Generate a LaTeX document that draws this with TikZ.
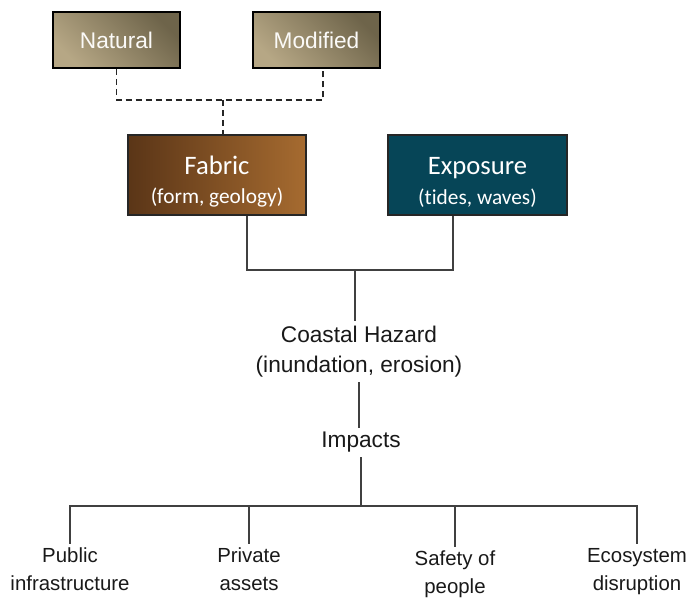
\documentclass[tikz,border=0pt]{standalone}
\usepackage{fontspec}
\setmainfont{Liberation Sans}
\newfontfamily\boxfont[Ligatures=NoCommon]{Carlito}
\usepackage{tikz}

\definecolor{tanlight}{HTML}{B6A785}
\definecolor{tandark}{HTML}{6E644A}
\definecolor{fabricdark}{HTML}{5A3517}
\definecolor{fabriclight}{HTML}{A66B30}
\definecolor{exposureteal}{HTML}{064557}

\begin{document}
\begin{tikzpicture}[
  x=0.75pt, y=-0.75pt,
  landbox/.style={rectangle, draw=black, line width=1.5pt, minimum width=95pt, minimum height=42pt, bottom color=tanlight, top color=tandark, shading angle=-45, text=white!94!tanlight, font=\fontsize{17}{20}\selectfont},
  drivebox/.style={rectangle, draw=black!85, line width=1.5pt, minimum width=134pt, minimum height=60pt, align=center, text height=45pt, text=white, font=\boxfont\fontsize{16}{22}\selectfont},
  outcome/.style={align=center, text=black!90, font=\fontsize{17}{23}\selectfont},
  category/.style={align=center, anchor=base, text=black!90, font=\fontsize{15.3}{21}\selectfont},
  link/.style={draw=black!75, line width=0.9pt},
  dashlink/.style={draw=black!85, line width=1.1pt, dash pattern=on 4.5pt off 3pt}
]
  \useasboundingbox (0,0) rectangle (687,599);

  % shoreline kind (top row)
  \node[landbox] (natural) at (116.5,40) {Natural};
  \node[landbox] (modified) at (316.5,40) {Modified};

  % drivers
  \node[drivebox, left color=fabricdark, right color=fabriclight] (fabric) at (217,175.5)
    {{\fontsize{20}{22}\selectfont Fabric}\\(form, geology)};
  \node[drivebox, fill=exposureteal] (exposure) at (477.5,175.5)
    {{\fontsize{20}{22}\selectfont Exposure}\\(tides, waves)};

  % hazard and impacts (base = last line)
  \node[outcome, anchor=base] (hazard) at (359,373) {Coastal Hazard\\(inundation, erosion)};
  \node[outcome, anchor=base] (impacts) at (361,448) {Impacts};

  % impact categories
  \node[category] (public) at (70,591) {Public\\infrastructure};
  \node[category] (private) at (249,591) {Private\\assets};
  \node[category] (safety) at (455,594) {Safety of\\people};
  \node[category] (ecosystem) at (637,591) {Ecosystem\\disruption};

  % dashed links to fabric
  \coordinate (modjoin) at (323,100);
  \coordinate (landjoin) at (223,100);
  \draw[dashlink] (natural.south) |- (modjoin) -- (modjoin |- modified.south);
  \draw[dashlink] (landjoin) -- (landjoin |- fabric.north);

  % fabric + exposure -> hazard
  \coordinate (fabjoin) at (247,270);
  \coordinate (expjoin) at (453,270);
  \coordinate (hazjoin) at (355,270);
  \draw[link] (fabjoin |- fabric.south) -- (fabjoin) -- (expjoin) -- (expjoin |- exposure.south);
  \draw[link] (hazjoin) -- (hazjoin |- hazard.north);
  \draw[link] (hazard.south) -- (hazard.south |- impacts.north);

  % impacts bus
  \coordinate (bus) at (361,506);
  \draw[link] (impacts.south) -- (impacts.south |- bus);
  \draw[link] (public.north) |- (ecosystem.north |- bus) -- (ecosystem.north);
  \foreach \cat in {private, safety}
    \draw[link] (\cat.north) -- (\cat.north |- bus);
\end{tikzpicture}
\end{document}
